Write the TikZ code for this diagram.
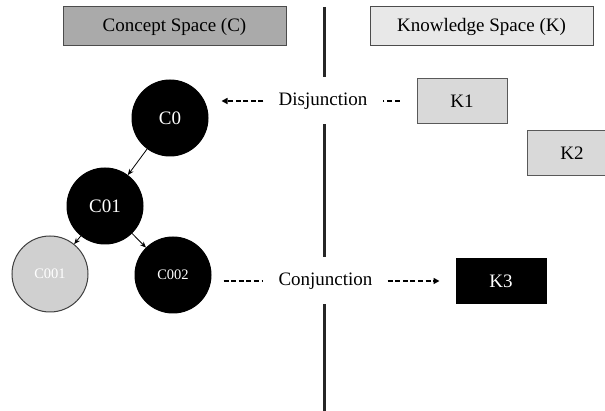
\documentclass[tikz,border=0pt]{standalone}
\usepackage{fontspec}
\setmainfont{Liberation Serif}
\usetikzlibrary{arrows.meta}
\definecolor{conceptgray}{RGB}{170,170,170}
\definecolor{headerlight}{RGB}{232,232,232}
\definecolor{knowgray}{RGB}{217,217,217}
\definecolor{leafgray}{RGB}{208,208,208}

\begin{document}
\begin{tikzpicture}[x=1pt,y=-1pt,
        bigfont/.style={font=\fontsize{19}{22}\selectfont},
        smallfont/.style={font=\fontsize{14.5}{17}\selectfont},
        space/.style={draw=black!70, line width=1pt, minimum width=223pt, minimum height=39pt, bigfont},
        concept/.style={circle, fill=black, draw=black, line width=1pt, text=white, minimum size=76pt, inner sep=0pt, bigfont},
        know/.style={rectangle, draw=black!65, line width=1pt, fill=knowgray, minimum width=90pt, minimum height=45pt, bigfont},
        op/.style={fill=white, inner xsep=15pt, minimum height=47pt, bigfont},
        link/.style={line width=1.6pt, dash pattern=on 5pt off 2.6pt},
        tree/.style={-{Stealth[length=6pt,width=5pt]}, line width=0.8pt}]
        \useasboundingbox (0,0) rectangle (605,411);
        \clip (0,0) rectangle (605,411);
        \coordinate (top) at (324,7);
        \coordinate (bottom) at (324,411);
        \draw[line width=3pt, black!85] (top) -- (bottom);
        % headers
        \node[space, fill=conceptgray] (cspace) at (174.5,26.5) {Concept Space (C)};
        \node[space, fill=headerlight] (kspace) at (481.5,26.5) {Knowledge Space (K)};
        % concept tree
        \node[concept] (c0) at (170,118) {C0};
        \node[concept] (c01) at (105,206) {C01};
        \node[concept, fill=leafgray, draw=black!75, smallfont] (c001) at (50,274) {C001};
        \node[concept, smallfont] (c002) at (173,275) {C002};
        \draw[tree] (c0) -- (c01);
        \draw[tree] (c01) -- (c001);
        \draw[tree] (c01) -- (c002);
        % knowledge
        \node[know] (k1) at (462,101) {K1};
        \node[know] (k2) at (572,153) {K2};
        \node[know, fill=black, draw=black, text=white] (k3) at (501,281) {K3};
        % operators
        \node[op] (disj) at (323,101) {Disjunction};
        \node[op] (conj) at (325.5,281) {Conjunction};
        \draw[link, -{Triangle[length=6pt,width=6pt]}, shorten >=13pt] (disj.west) -- (c0.east |- disj.west);
        \draw[link, shorten <=17pt] (k1.west) -- (disj.east);
        \draw[link, shorten <=12pt] (c002.east |- conj.west) -- (conj.west);
        \draw[link, -{Triangle[length=6pt,width=6pt]}, shorten >=16pt] (conj.east) -- (k3.west);
    \end{tikzpicture}
\end{document}
